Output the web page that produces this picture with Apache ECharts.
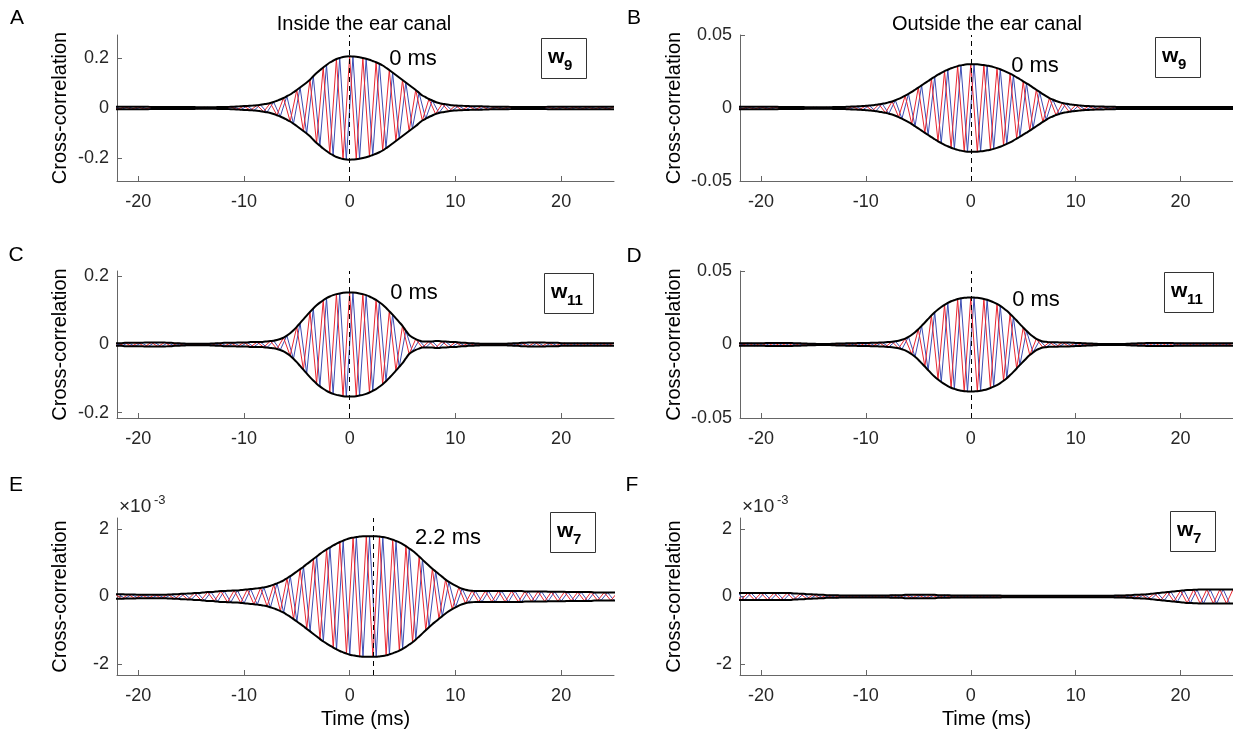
<!DOCTYPE html>
<html><head><meta charset="utf-8">
<script src="https://cdn.jsdelivr.net/npm/echarts@6/dist/echarts.min.js"></script>
<style>html,body{margin:0;padding:0;background:#fff}#c{width:1233px;height:731px}</style>
</head><body><div id="c"></div>
<script>
// ---------------- data ----------------
// Samples are taken every quarter carrier period: even samples are peaks of the red trace,
// odd samples are peaks of the blue (quadrature) trace; all samples lie on the black envelope.
const quarterPeriodMs = 0.3125;
const sampleStart = [-22.5, -22.5, -22.5, -22.5, -22.175, -22.5]; // ms, time of sample 0 in each panel
const xTicks = [-20, -10, 0, 10, 20];
const xRange = [-22, 25];
const yTicksInside = [-0.2, 0, 0.2];
const yTicksOutside = [-0.05, 0, 0.05];
const yTicksE3 = [-2, 0, 2];           // ×10^-3
const lagMs = [0, 0, 0, 0, 2.2, null];
const waveletIndex = ['9', '9', '11', '11', '7', '7'];
const panelLetters = ['A', 'B', 'C', 'D', 'E', 'F'];
const columnTitles = ['Inside the ear canal', 'Outside the ear canal'];

const ampA = [ // ×0.001
  5,5,5,5,5,5,5,5,5,5,5,5, 4,4,4,4,4,4,4,4,4,4,4,4,4,4, 3,3,3,3,3,3, 4,4,4,4,5,5,6,7,
  8,8,9,10,11,13,15,17,20,24,29,34,40,47,54,63,72,82,92,102,113,127,140,151,162,172,182,189,196,200,204,206,
  207,206,
  205,203,200,197,193,188,183,177,170,161,152,142,132,122,112,102,92,82,72,61,50,43,36,30,24,20,17,15,13,11,10,9,
  9,8,8,7,7,7,7,6,6,5,5,5,5,5,5,4,
  4,4,4,4,4,4,4,4,4,4,5,5,5,5,5,5,5,5,5,5,5,5,5,5,5,5,5,5,5,5, 5];
const ampB = [ // ×0.0001
  8,8,8,8,8,8,8,8,8,8,8,8,8,8,7,7,7,7,6,6,6,6,5,5,5,5,
  5,5,5,5,6,6,7,7,8,9,10,11,12,13,15,17,19,22,25,29,33,39,
  45,53,62,73,85,97,110,125,140,155,170,185,200,214,228,240,252,262,272,280,287,292,297,299,
  300,300,
  299,297,294,290,286,280,273,265,256,246,235,223,210,197,183,169,155,140,125,110,95,81,68,58,48,41,34,30,26,23,20,18,
  16,14,13,12,11,10,10,9,9,8,8,7,7,7,7,6,
  6,6,6,6,6,6,6,6,6,6,7,7,7,7,7,7,7,7,7,7,7,7,7,7,7,7,7,7,7,7, 7];
const ampC = [ // ×0.001
  4,4,4,4,5,5,5,5,5,5,6,6,6,6,6,6,6,5,
  5,4,4,3,3,2,2,2,2,2,2,2,3,3,
  4,4,5,5,5,5,6,6,6,6,7,7,7,7,8,9,
  10,11,13,16,20,26,33,42,52,63,74,85,96,106,115,123,130,136,141,145,148,150,152,153,
  153,153,
  152,150,148,145,141,136,131,124,117,108,98,88,77,66,55,41,28,21,16,12,9,9,9,9,10,10,9,9,8,7,7,6,
  5,5,4,4,3,3,2,2,2,2,2,2,2,2,3,3,
  4,4,5,5,6,6,6,6,6,6,5,5,5,5,4,4,
  4,4,4,4,4,4,4,4,4,4,4,4,4,4, 4];
const ampD = [ // ×0.0001
  8,8,8,8,9,9,9,9,9,9,10,10,10,10,10,10,10,10,
  9,9,8,7,6,5,5,4,4,4,4,4,5,6,
  7,7,8,8,9,9,10,10,11,11,12,12,13,14,15,17,
  19,22,26,32,40,52,66,84,104,127,150,174,198,219,238,255,270,283,294,302,309,314,318,319,
  320,319,
  318,315,310,304,296,287,276,263,247,229,208,186,163,139,116,93,72,54,38,28,20,18,16,15,15,14,14,13,13,12,11,10,
  9,8,7,6,5,4,4,4,4,4,4,4,4,4,5,6,
  7,8,9,9,10,10,11,11,11,11,10,10,9,8,8,8,
  8,8,8,8,8,8,8,8,8,8,8,8,8,8, 8];
const ampE = [ // ×0.00001
  7,7,7,6,6,6,6,5,5,5,5,5,5,5,5,5,
  6,6,7,7,8,8,9,9,10,10,11,12,13,13,14,15,16,16,17,17,18,18,19,20,21,22,23,24,25,27,29,32,
  35,39,43,48,54,60,67,74,81,88,96,103,111,118,126,133,139,145,151,156,161,165,169,172,174,176,177,178,178,178,
  178,178,
  177,176,174,171,168,164,160,155,149,142,135,127,118,109,100,91,82,74,66,58,50,43,37,32,27,23,20,18,17,16,16,16,
  16,16,16,16,16,16,16,16,16,16,16,16, 15,15,15,15,15,15,15,14,14,14,14,14,14,13,
  13,13,13,13,13,13,13,12,12,12,12,12,12,12, 12];
const ampF = [ // ×0.00001
  10,10,10,10,10,10,10,10,10,10,10,10,10,10,10,10,10,10,
  9,9,8,8,7,7,6,6,5,5,4,4,4,4,
  3,3,3,3,3,3,3,3,3,3,3,3,3,3,3,3,
  4,4,4,4,5,5,5,5,5,5,5,5,5,5,4,4,4,4,
  3,3,3,3,3,3,3,3,3,3,3,3,3,3,3,3,
  2,2,2,2,2,2,2,2,2,2,2,2,2,2,2,2,2,2,2,2,2,2,2,2,2,2,2,2,2,2,2,2,2,2,
  3,3,3,3,4,4,5,5,6,6,7,8,9,10,11,12,13,14,15,16,
  17,18,19,19,20,20,21,21,21,21,21,21,21,21,21,21, 21];
const amps = [ampA, ampB, ampC, ampD, ampE, ampF];
const ampUnit = [0.001, 0.0001, 0.001, 0.0001, 0.01, 0.01]; // to plotted units (E, F plotted in ×10^-3)

// ---------------- layout ----------------
const FONT = 'Liberation Sans, Arial, Helvetica, sans-serif';
const RED = '#ea2630', BLUE = '#3d4db3';
const L = {left: 117, width: 497}, R = {left: 740, width: 493};
const panels = [
  {grid: {...L, top: 35, height: 146}, ylim: [-0.292, 0.292], yTicks: yTicksInside, letter: [17, 18], lagText: [413, 59], box: [541, 38, 45, 40]},
  {grid: {...R, top: 35, height: 146}, ylim: [-0.05, 0.05], yTicks: yTicksOutside, letter: [634, 18], lagText: [1035, 66], box: [1155, 37, 45, 40]},
  {grid: {...L, top: 271, height: 147}, ylim: [-0.216, 0.216], yTicks: yTicksInside, letter: [16, 255], lagText: [414, 293], box: [544, 273, 49, 40]},
  {grid: {...R, top: 271, height: 147}, ylim: [-0.05, 0.05], yTicks: yTicksOutside, letter: [634, 256], lagText: [1036, 300], box: [1164, 272, 49, 40]},
  {grid: {...L, top: 518, height: 157}, ylim: [-2.32, 2.32], yTicks: yTicksE3, letter: [16, 485], lagText: [448, 538], box: [550, 512, 45, 40], exp: [119, 507], xlabel: true},
  {grid: {...R, top: 518, height: 157}, ylim: [-2.32, 2.32], yTicks: yTicksE3, letter: [632, 485], lagText: null, box: [1170, 511, 45, 40], exp: [742, 507], xlabel: true}
];

function traces(amp, unit, t0) {
  const up = [], lo = [], red = [], blue = [];
  amp.forEach((a, k) => {
    const t = +(t0 + k * quarterPeriodMs).toFixed(4);
    const v = a * unit;
    up.push([t, v]); lo.push([t, -v]);
    const sign = (k % 4 < 2) ? 1 : -1;
    if (k % 2 === 0) red.push([t, sign * v]); else blue.push([t, sign * v]);
  });
  return {up, lo, red, blue};
}

const grids = [], xAxes = [], yAxes = [], series = [], g = [];
const fmt = v => String(v);
panels.forEach((p, i) => {
  grids.push({left: p.grid.left, top: p.grid.top, width: p.grid.width, height: p.grid.height, containLabel: false});
  xAxes.push({
    type: 'value', gridIndex: i, min: xRange[0], max: xRange[1],
    axisLine: {show: true, onZero: false, lineStyle: {color: '#666', width: 1}},
    axisTick: {show: true, inside: true, length: 5, customValues: xTicks, lineStyle: {color: '#666'}},
    axisLabel: {customValues: xTicks, formatter: fmt, fontSize: 18, fontFamily: FONT, color: '#262626', margin: 12},
    splitLine: {show: false}
  });
  yAxes.push({
    type: 'value', gridIndex: i, min: p.ylim[0], max: p.ylim[1],
    axisLine: {show: true, onZero: false, lineStyle: {color: '#666', width: 1}},
    axisTick: {show: true, inside: true, length: 5, customValues: p.yTicks, lineStyle: {color: '#666'}},
    axisLabel: {customValues: p.yTicks, formatter: fmt, fontSize: 18, fontFamily: FONT, color: '#262626', margin: 8},
    splitLine: {show: false}
  });
  const w = traces(amps[i], ampUnit[i], sampleStart[i]);
  const base = {type: 'line', xAxisIndex: i, yAxisIndex: i, symbol: 'none', showSymbol: false, silent: true, animation: false};
  series.push({...base, data: w.blue, lineStyle: {color: BLUE, width: 1}, z: 2});
  series.push({...base, data: w.red, lineStyle: {color: RED, width: 1}, z: 3});
  const up = {...base, data: w.up, smooth: 0.3, lineStyle: {color: '#000', width: 2}, z: 4};
  if (lagMs[i] !== null) {
    up.markLine = {silent: true, symbol: ['none', 'none'], label: {show: false}, animation: false,
      lineStyle: {color: '#000', width: 1, type: [5, 4]}, data: [{xAxis: lagMs[i]}]};
  }
  series.push(up);
  series.push({...base, data: w.lo, smooth: 0.3, lineStyle: {color: '#000', width: 2}, z: 4});

  g.push({type: 'text', x: p.letter[0], y: p.letter[1], style: {text: panelLetters[i], fontSize: 21, fontFamily: FONT, fill: '#000', align: 'center', verticalAlign: 'middle'}});
  const cy = p.grid.top + p.grid.height / 2;
  const lx = p.grid.left === L.left ? 60 : 674;
  g.push({type: 'text', x: lx, y: cy, rotation: Math.PI / 2, style: {text: 'Cross-correlation', fontSize: 20, fontFamily: FONT, fill: '#000', align: 'center', verticalAlign: 'middle'}});
  if (p.lagText) {
    g.push({type: 'text', x: p.lagText[0], y: p.lagText[1], style: {text: lagMs[i] + ' ms', fontSize: 22, fontFamily: FONT, fill: '#000', align: 'center', verticalAlign: 'middle'}});
  }
  const b = p.box;
  g.push({type: 'rect', shape: {x: b[0] + 0.5, y: b[1] + 0.5, width: b[2], height: b[3]}, style: {fill: '#fff', stroke: '#333', lineWidth: 1}, z: 10});
  g.push({type: 'text', x: b[0] + 7, y: b[1] + 19, z: 11, style: {text: 'w', fontSize: 21, fontWeight: 'bold', fontFamily: FONT, fill: '#000', align: 'left', verticalAlign: 'middle'}});
  g.push({type: 'text', x: b[0] + 23, y: b[1] + 28, z: 11, style: {text: waveletIndex[i], fontSize: 15, fontWeight: 'bold', fontFamily: FONT, fill: '#000', align: 'left', verticalAlign: 'middle'}});
  if (p.exp) {
    g.push({type: 'text', x: p.exp[0], y: p.exp[1], style: {text: '×10', fontSize: 19, fontFamily: FONT, fill: '#262626', align: 'left', verticalAlign: 'middle'}});
    g.push({type: 'text', x: p.exp[0] + 35, y: p.exp[1] - 7, style: {text: '-3', fontSize: 13, fontFamily: FONT, fill: '#262626', align: 'left', verticalAlign: 'middle'}});
  }
  if (p.xlabel) {
    g.push({type: 'text', x: p.grid.left + p.grid.width / 2, y: 719, style: {text: 'Time (ms)', fontSize: 20, fontFamily: FONT, fill: '#000', align: 'center', verticalAlign: 'middle'}});
  }
});
g.push({type: 'text', x: 364, y: 24, style: {text: columnTitles[0], fontSize: 20, fontFamily: FONT, fill: '#000', align: 'center', verticalAlign: 'middle'}});
g.push({type: 'text', x: 987, y: 24, style: {text: columnTitles[1], fontSize: 20, fontFamily: FONT, fill: '#000', align: 'center', verticalAlign: 'middle'}});

const chart = echarts.init(document.getElementById('c'), null, {renderer: 'canvas'});
chart.setOption({animation: false, backgroundColor: '#fff', grid: grids, xAxis: xAxes, yAxis: yAxes, series, graphic: {elements: g}});
</script></body></html>
